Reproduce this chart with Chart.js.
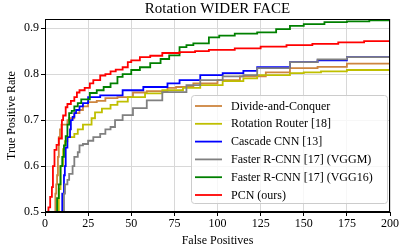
<!DOCTYPE html>
<html>
<head>
<meta charset="utf-8">
<script src="https://cdn.jsdelivr.net/npm/chart.js@4"></script>
<style>
  html, body { margin: 0; padding: 0; background: #fff; }
</style>
</head>
<body>
<canvas id="myChart" width="400" height="248"></canvas>
<script>
let labels = ['Divide-and-Conquer', 'Rotation Router [18]', 'Cascade CNN [13]', 'Faster R-CNN [17] (VGGM)', 'Faster R-CNN [17] (VGG16)', 'PCN (ours)'];
let colorHex = ['#CD853F', '#BFBF00', '#0000FF', '#808080', '#008000', '#FF0000'];

let xTicks = [0, 25, 50, 75, 100, 125, 150, 175, 200];
let yTicks = [0.5, 0.6, 0.7, 0.8, 0.9];

// false positives / true positive rate
let dncX = [5, 6, 6.5, 7, 7.5, 8, 8.7, 9.5, 13, 14, 17, 20, 22, 25, 30, 35, 42, 51, 59, 71, 76, 86, 100, 113, 128, 142, 158, 175, 200];
let dncY = [0.47, 0.5, 0.54, 0.56, 0.58, 0.62, 0.663, 0.68, 0.69, 0.70, 0.704, 0.715, 0.722, 0.73, 0.739, 0.742, 0.748, 0.75, 0.76, 0.763, 0.77, 0.772, 0.78, 0.787, 0.795, 0.804, 0.813, 0.816, 0.823];

let rrX = [7.5, 8, 9, 10.5, 11.5, 13, 17, 19, 22, 27, 29, 33, 38, 42, 48, 58, 68, 80, 90, 103, 115, 123, 142, 150, 160, 175, 200];
let rrY = [0.47, 0.5, 0.55, 0.6, 0.637, 0.654, 0.663, 0.67, 0.68, 0.69, 0.704, 0.717, 0.725, 0.733, 0.74, 0.75, 0.758, 0.765, 0.77, 0.776, 0.785, 0.791, 0.798, 0.802, 0.804, 0.806, 0.809];

let casX = [9.5, 10, 11, 11.5, 12, 13, 14.5, 15, 16, 17, 18, 20, 22, 25, 32, 45, 57, 71, 78, 90, 103, 115, 123, 142, 158, 175, 200];
let casY = [0.47, 0.5, 0.54, 0.58, 0.6, 0.64, 0.663, 0.68, 0.70, 0.707, 0.715, 0.722, 0.73, 0.737, 0.75, 0.754, 0.765, 0.772, 0.78, 0.787, 0.798, 0.802, 0.807, 0.815, 0.826, 0.83, 0.837];

let vggmX = [10, 11, 11.6, 13, 14, 16, 17, 19, 20, 22, 25, 28, 32, 35, 38, 40.6, 45, 51, 59, 68, 82, 90, 103, 115, 123, 142, 158, 175, 200];
let vggmY = [0.47, 0.5, 0.54, 0.56, 0.57, 0.583, 0.6, 0.62, 0.63, 0.645, 0.648, 0.655, 0.663, 0.67, 0.68, 0.685, 0.70, 0.711, 0.726, 0.743, 0.761, 0.776, 0.787, 0.795, 0.798, 0.813, 0.826, 0.832, 0.837];

let vgg16X = [6, 7, 8, 9, 10, 11, 12, 13, 14, 15.5, 17, 19, 21, 26, 30, 34, 38, 42, 45, 50, 55, 61, 67, 72, 78, 82, 86, 95, 101, 110, 123, 134, 142, 150, 162, 175, 188, 200];
let vgg16Y = [0.47, 0.5, 0.53, 0.56, 0.6, 0.62, 0.645, 0.665, 0.69, 0.715, 0.72, 0.73, 0.737, 0.745, 0.759, 0.765, 0.772, 0.78, 0.794, 0.80, 0.809, 0.815, 0.824, 0.833, 0.841, 0.859, 0.863, 0.867, 0.88, 0.884, 0.888, 0.891, 0.898, 0.905, 0.909, 0.913, 0.915, 0.917];

let pcnX = [2, 3, 4, 4.6, 5.5, 6.7, 8, 9.8, 10.5, 12, 13, 15, 17, 18.5, 20, 23, 26, 28, 32, 35, 38, 41, 45, 48, 50, 55, 61, 68, 78, 87, 95, 110, 125, 140, 155, 170, 185, 200];
let pcnY = [0.48, 0.51, 0.533, 0.554, 0.6, 0.635, 0.646, 0.66, 0.70, 0.71, 0.728, 0.735, 0.742, 0.75, 0.76, 0.765, 0.77, 0.78, 0.787, 0.797, 0.80, 0.806, 0.81, 0.815, 0.826, 0.83, 0.837, 0.84, 0.846, 0.848, 0.85, 0.853, 0.856, 0.86, 0.863, 0.866, 0.869, 0.872];

let seriesX = [dncX, rrX, casX, vggmX, vgg16X, pcnX];
let seriesY = [dncY, rrY, casY, vggmY, vgg16Y, pcnY];

const serif = "'Liberation Serif', 'DejaVu Serif', serif";

// title over the plot, frame on top/right, legend box inside the plot
const framePlugin = {
  id: 'frame',
  afterDraw(chart) {
    let c = chart.ctx, a = chart.chartArea;
    c.save();
    c.fillStyle = '#000';
    c.font = '15px ' + serif;
    c.textAlign = 'center';
    c.textBaseline = 'middle';
    c.fillText('Rotation WIDER FACE', (a.left + a.right) / 2, 9);
    c.textAlign = 'left';

    let lx = 191, ly = 95, lw = 196, lh = 108;
    c.fillStyle = 'rgba(255,255,255,0.8)';
    c.strokeStyle = '#cccccc';
    c.lineWidth = 1;
    c.beginPath();
    c.roundRect(lx + 0.5, ly + 0.5, lw, lh, 3);
    c.fill();
    c.stroke();
    c.font = '12px ' + serif;
    labels.forEach((lab, i) => {
      let y = 106 + i * 17.8;
      c.strokeStyle = colorHex[i];
      c.lineWidth = 1.8;
      c.beginPath();
      c.moveTo(195, y);
      c.lineTo(222, y);
      c.stroke();
      c.fillStyle = '#000';
      c.fillText(lab, 231, y + 0.5);
    });

    c.strokeStyle = '#000';
    c.lineWidth = 1;
    c.strokeRect(a.left + 0.5, a.top + 0.5, a.right - a.left - 1, a.bottom - a.top - 1);
    c.restore();
  }
};

let ctx = document.getElementById('myChart').getContext('2d');

let myChart = new Chart(ctx, {
  type: 'line',
  data: {
    datasets: labels.map((lab, i) => ({
      label: lab,
      data: seriesX[i].map((x, j) => ({ x: x, y: seriesY[i][j] })),
      borderColor: colorHex[i],
      backgroundColor: colorHex[i],
      borderWidth: 1.8,
      pointRadius: 0,
      stepped: 'after',
      fill: false,
      order: 5 - i
    }))
  },
  options: {
    responsive: false,
    animation: false,
    layout: { padding: { left: 0, right: 10, top: 19, bottom: 0 } },
    plugins: {
      legend: { display: false },
      tooltip: { enabled: false },
      title: { display: false }
    },
    scales: {
      x: {
        type: 'linear',
        min: 0,
        max: 200,
        afterBuildTicks: (s) => { s.ticks = xTicks.map(v => ({ value: v })); },
        afterFit: (s) => { s.height = 36; },
        grid: { color: '#d8d8d8', tickColor: '#000', tickLength: 4 },
        border: { color: '#000' },
        ticks: { color: '#000', font: { family: serif, size: 12 }, padding: 1, maxRotation: 0 },
        title: { display: true, text: 'False Positives', color: '#000', font: { family: serif, size: 12 }, padding: { top: 0, bottom: 0 } }
      },
      y: {
        type: 'linear',
        min: 0.5,
        max: 0.92,
        afterBuildTicks: (s) => { s.ticks = yTicks.map(v => ({ value: v })); },
        afterFit: (s) => { s.width = 45; },
        grid: { color: '#d8d8d8', tickColor: '#000', tickLength: 4 },
        border: { color: '#000' },
        ticks: { color: '#000', font: { family: serif, size: 12 }, padding: 2, callback: (v) => v.toFixed(1) },
        title: { display: true, text: 'True Positive Rate', color: '#000', font: { family: serif, size: 12 }, padding: { top: 5, bottom: 0 } }
      }
    }
  },
  plugins: [framePlugin]
});
</script>
</body>
</html>
